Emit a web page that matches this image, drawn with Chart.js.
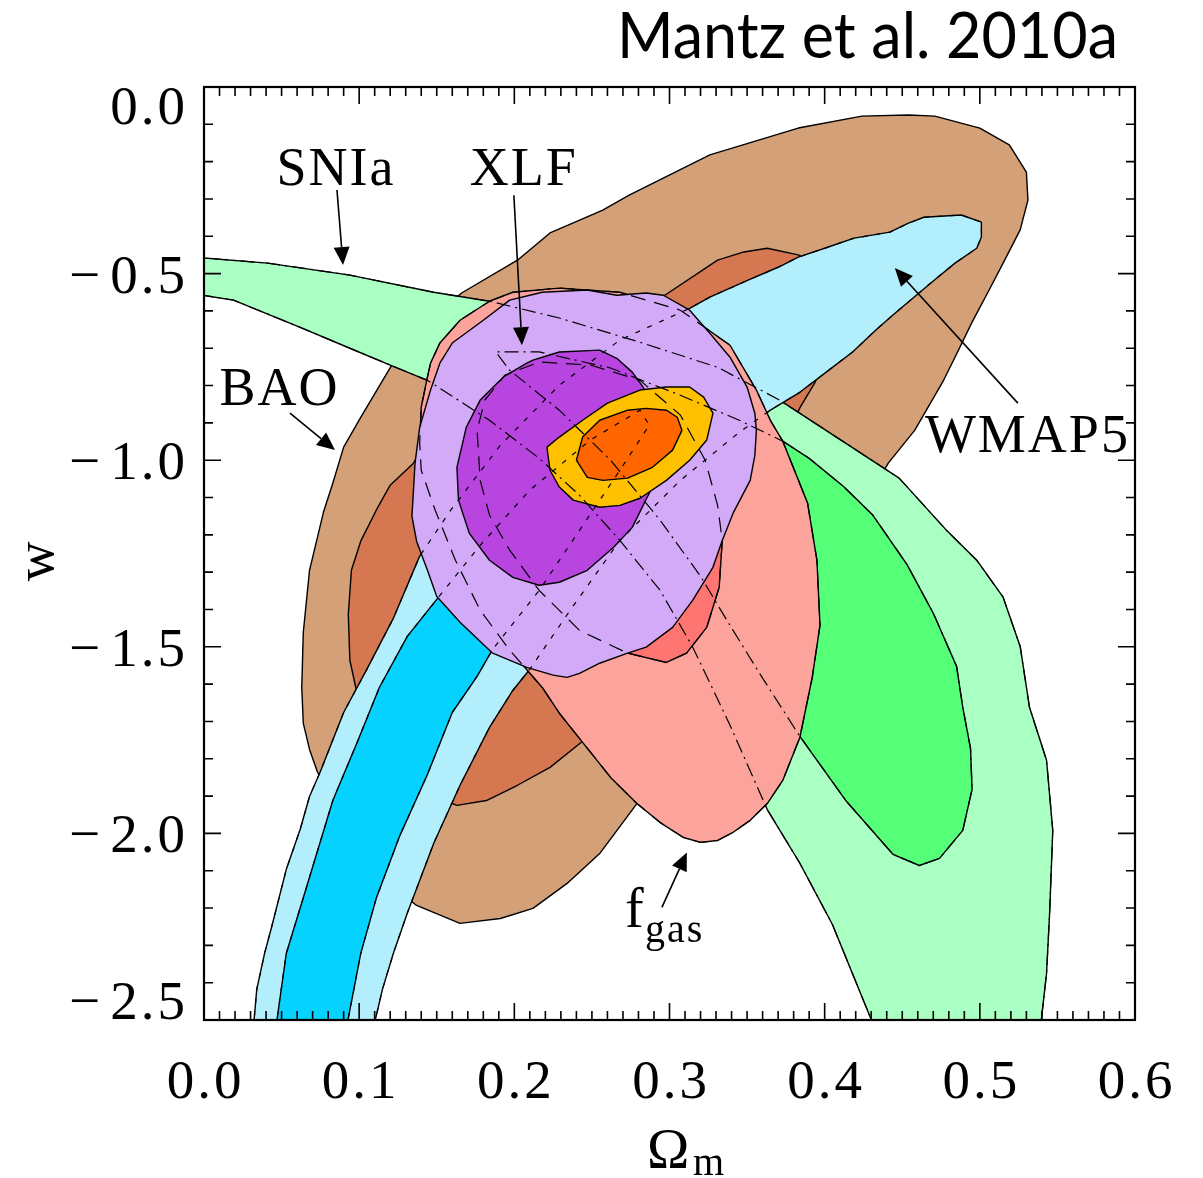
<!DOCTYPE html>
<html>
<head>
<meta charset="utf-8">
<script src="https://cdn.jsdelivr.net/npm/chart.js@4.4.1/dist/chart.umd.min.js"></script>
<style>
  html, body { margin: 0; padding: 0; background: #fff; }
  canvas { display: block; }
</style>
</head>
<body>
<canvas id="contours" width="1203" height="1178"></canvas>
<script>
// contour outlines as [Omega_m, w] pairs
const baoOuter = [
  [0.063,-1.609],[0.064,-1.461],[0.068,-1.295],[0.077,-1.139],[0.083,-1.062],[0.090,-0.965],[0.101,-0.885],
  [0.121,-0.745],[0.146,-0.625],[0.166,-0.552],[0.202,-0.464],[0.223,-0.391],[0.257,-0.330],[0.274,-0.290],
  [0.326,-0.182],[0.383,-0.110],[0.424,-0.078],[0.454,-0.075],[0.471,-0.078],[0.500,-0.110],[0.519,-0.155],
  [0.530,-0.228],[0.531,-0.303],[0.526,-0.383],[0.516,-0.464],[0.506,-0.544],[0.495,-0.630],[0.484,-0.724],
  [0.476,-0.791],[0.458,-0.920],[0.441,-1.008],[0.416,-1.188],[0.377,-1.429],[0.332,-1.670],[0.279,-1.920],
  [0.255,-2.054],[0.234,-2.134],[0.212,-2.201],[0.191,-2.228],[0.165,-2.241],[0.137,-2.193],[0.113,-2.113],
  [0.091,-1.992],[0.073,-1.834],[0.068,-1.775],[0.064,-1.705]
];
const baoInner = [
  [0.093,-1.413],[0.095,-1.295],[0.101,-1.217],[0.111,-1.134],[0.120,-1.067],[0.135,-1.008],[0.152,-0.893],
  [0.178,-0.786],[0.210,-0.692],[0.255,-0.611],[0.297,-0.558],[0.331,-0.464],[0.348,-0.442],[0.363,-0.432],
  [0.383,-0.450],[0.400,-0.491],[0.408,-0.571],[0.403,-0.678],[0.394,-0.790],[0.384,-0.860],[0.371,-0.973],
  [0.358,-1.134],[0.339,-1.349],[0.313,-1.536],[0.281,-1.670],[0.244,-1.753],[0.223,-1.823],[0.202,-1.871],
  [0.182,-1.912],[0.163,-1.925],[0.139,-1.885],[0.117,-1.778],[0.101,-1.670],[0.094,-1.536]
];
const snOuter = [
  [-0.01,-0.455],[0.041,-0.472],[0.094,-0.504],[0.148,-0.550],[0.184,-0.574],[0.229,-0.619],[0.281,-0.684],
  [0.331,-0.751],[0.371,-0.839],[0.448,-1.048],[0.479,-1.190],[0.498,-1.268],[0.515,-1.367],[0.526,-1.499],
  [0.532,-1.662],[0.543,-1.804],[0.547,-1.992],[0.545,-2.212],[0.543,-2.375],[0.538,-2.56],[0.436,-2.56],
  [0.405,-2.244],[0.384,-2.080],[0.363,-1.936],[0.339,-1.710],[0.315,-1.501],[0.294,-1.349],[0.268,-1.215],
  [0.242,-1.094],[0.216,-0.995],[0.184,-0.893],[0.144,-0.786],[0.120,-0.745],[0.094,-0.700],[0.062,-0.644],
  [0.019,-0.571],[-0.01,-0.552]
];
const snInner = [
  [0.373,-0.949],[0.390,-0.995],[0.412,-1.070],[0.431,-1.147],[0.453,-1.279],[0.470,-1.410],[0.485,-1.552],
  [0.489,-1.662],[0.494,-1.772],[0.495,-1.882],[0.489,-1.992],[0.474,-2.067],[0.461,-2.086],[0.444,-2.056],
  [0.414,-1.914],[0.384,-1.740],[0.358,-1.571],[0.337,-1.429],[0.320,-1.311],[0.294,-1.161],[0.262,-1.000],
  [0.229,-0.866],[0.197,-0.759],[0.188,-0.710],[0.216,-0.710],[0.262,-0.753],[0.307,-0.826],[0.345,-0.893]
];
const wmapOuter = [
  [0.031,-2.56],[0.034,-2.418],[0.039,-2.322],[0.044,-2.244],[0.053,-2.097],[0.062,-1.989],[0.068,-1.901],
  [0.075,-1.834],[0.090,-1.676],[0.105,-1.560],[0.122,-1.424],[0.139,-1.257],[0.159,-1.134],[0.191,-0.960],
  [0.229,-0.799],[0.268,-0.678],[0.313,-0.593],[0.326,-0.563],[0.351,-0.517],[0.370,-0.483],[0.383,-0.456],
  [0.400,-0.432],[0.419,-0.405],[0.442,-0.389],[0.454,-0.365],[0.464,-0.349],[0.488,-0.343],[0.501,-0.362],
  [0.501,-0.402],[0.498,-0.432],[0.484,-0.472],[0.469,-0.523],[0.444,-0.611],[0.433,-0.651],[0.418,-0.710],
  [0.401,-0.764],[0.384,-0.818],[0.365,-0.866],[0.345,-0.925],[0.307,-1.054],[0.268,-1.215],[0.236,-1.402],
  [0.210,-1.560],[0.199,-1.617],[0.184,-1.716],[0.165,-1.871],[0.148,-2.027],[0.131,-2.214],[0.122,-2.322],
  [0.115,-2.418],[0.107,-2.56]
];
const wmapInner = [
  [0.045,-2.56],[0.053,-2.322],[0.066,-2.145],[0.083,-1.912],[0.099,-1.753],[0.113,-1.609],[0.131,-1.472],
  [0.150,-1.373],[0.178,-1.228],[0.210,-1.080],[0.249,-0.946],[0.281,-0.866],[0.287,-0.906],[0.268,-1.027],
  [0.242,-1.188],[0.216,-1.349],[0.186,-1.507],[0.176,-1.579],[0.160,-1.676],[0.144,-1.842],[0.126,-2.008],
  [0.111,-2.174],[0.101,-2.322],[0.090,-2.56]
];
const fgasOuter = [
  [0.184,-0.574],[0.199,-0.550],[0.229,-0.539],[0.268,-0.550],[0.307,-0.598],[0.339,-0.692],[0.356,-0.812],
  [0.365,-0.893],[0.373,-0.949],[0.389,-1.115],[0.395,-1.268],[0.397,-1.442],[0.392,-1.582],[0.384,-1.743],
  [0.373,-1.858],[0.363,-1.920],[0.352,-1.965],[0.341,-1.997],[0.331,-2.019],[0.320,-2.024],[0.309,-2.011],
  [0.294,-1.971],[0.279,-1.920],[0.262,-1.850],[0.244,-1.756],[0.229,-1.678],[0.218,-1.609],[0.210,-1.571],
  [0.197,-1.509],[0.178,-1.402],[0.162,-1.268],[0.149,-1.134],[0.140,-1.027],[0.139,-0.954],[0.140,-0.858],
  [0.144,-0.777],[0.146,-0.740],[0.152,-0.686],[0.165,-0.625]
];
const fgasInner = [
  [0.273,-1.517],[0.298,-1.542],[0.311,-1.517],[0.324,-1.448],[0.332,-1.341],[0.334,-1.215],[0.331,-1.121],
  [0.323,-1.000],[0.307,-0.879],[0.281,-0.786],[0.249,-0.745],[0.216,-0.737],[0.194,-0.772],[0.181,-0.839],
  [0.176,-0.920],[0.178,-1.054],[0.184,-1.147],[0.197,-1.241],[0.216,-1.349],[0.242,-1.456]
];
const xlfOuter = [
  [0.152,-0.740],[0.160,-0.686],[0.180,-0.625],[0.197,-0.571],[0.218,-0.550],[0.247,-0.544],[0.266,-0.558],
  [0.285,-0.552],[0.296,-0.558],[0.313,-0.598],[0.326,-0.660],[0.339,-0.724],[0.350,-0.804],[0.355,-0.874],
  [0.356,-0.920],[0.355,-0.987],[0.352,-1.054],[0.341,-1.142],[0.334,-1.215],[0.328,-1.287],[0.315,-1.375],
  [0.302,-1.448],[0.285,-1.501],[0.273,-1.517],[0.255,-1.544],[0.242,-1.571],[0.234,-1.582],[0.225,-1.576],
  [0.208,-1.555],[0.186,-1.517],[0.165,-1.434],[0.150,-1.365],[0.144,-1.295],[0.137,-1.217],[0.134,-1.150],
  [0.135,-1.080],[0.136,-1.008],[0.139,-0.912],[0.146,-0.812]
];
const xlfInner = [
  [0.212,-0.732],[0.229,-0.710],[0.255,-0.705],[0.266,-0.727],[0.276,-0.764],[0.283,-0.804],[0.294,-0.893],
  [0.297,-1.000],[0.287,-1.088],[0.276,-1.180],[0.264,-1.233],[0.247,-1.295],[0.229,-1.327],[0.216,-1.335],
  [0.199,-1.314],[0.184,-1.268],[0.171,-1.196],[0.164,-1.107],[0.163,-1.019],[0.169,-0.912],[0.178,-0.839],
  [0.193,-0.777],[0.208,-0.740]
];
const jointOuter = [
  [0.221,-0.965],[0.223,-1.027],[0.229,-1.072],[0.238,-1.107],[0.255,-1.126],[0.268,-1.121],[0.281,-1.102],
  [0.298,-1.054],[0.313,-1.000],[0.324,-0.946],[0.328,-0.874],[0.322,-0.831],[0.313,-0.804],[0.298,-0.804],
  [0.281,-0.812],[0.260,-0.847],[0.244,-0.893],[0.229,-0.938]
];
const jointInner = [
  [0.240,-1.000],[0.247,-1.046],[0.257,-1.054],[0.273,-1.048],[0.289,-1.019],[0.302,-0.973],[0.308,-0.920],
  [0.305,-0.885],[0.298,-0.866],[0.285,-0.861],[0.273,-0.866],[0.255,-0.893],[0.244,-0.938]
];

const xTickValues = [0, 0.1, 0.2, 0.3, 0.4, 0.5, 0.6];
const xTickLabels = ['0.0', '0.1', '0.2', '0.3', '0.4', '0.5', '0.6'];
const yTickValues = [0, -0.5, -1.0, -1.5, -2.0, -2.5];
const yTickLabels = ['0.0', '−0.5', '−1.0', '−1.5', '−2.0', '−2.5'];

// drawing order, bottom first
const layers = [
  { data: baoOuter, color: '#d4a077' },
  { data: baoInner, color: '#d57852' },
  { data: snOuter, color: '#aaffc3' },
  { data: snInner, color: '#55ff78' },
  { data: wmapOuter, color: '#b3eefc' },
  { data: wmapInner, color: '#05d2ff' },
  { data: fgasOuter, color: '#fca39b' },
  { data: fgasInner, color: '#ff7571' },
  { data: xlfOuter, color: '#d2aaf7' },
  { data: xlfInner, color: '#b845e0' },
  { data: jointOuter, color: '#ffc000' },
  { data: jointInner, color: '#ff6600' }
];
// hidden parts of some contours show through as broken lines
const overlays = [
  { data: snOuter, dash: [14, 5, 2, 5] },
  { data: snInner, dash: [14, 5, 2, 5] },
  { data: wmapOuter, dash: [5, 8] },
  { data: wmapInner, dash: [5, 8] },
  { data: fgasOuter, dash: [15, 9] },
  { data: fgasInner, dash: [15, 9] }
];

function closed(poly) {
  return poly.concat([poly[0]]).map(p => ({ x: p[0], y: p[1] }));
}

const datasets = [];
layers.forEach((l, i) => {
  datasets.push({
    data: closed(l.data),
    showLine: true,
    fill: 'shape',
    backgroundColor: l.color,
    borderColor: '#000',
    borderWidth: 1.4,
    borderJoinStyle: 'round',
    pointRadius: 0,
    order: 100 - i
  });
});
overlays.forEach((o, i) => {
  datasets.push({
    data: closed(o.data),
    showLine: true,
    fill: false,
    borderColor: '#000',
    borderWidth: 1.2,
    borderDash: o.dash,
    pointRadius: 0,
    order: -1 - i
  });
});

const serif = '"Liberation Serif", "DejaVu Serif", serif';
const textNotes = [
  { text: 'SNIa', x: 0.0844, y: -0.263 },
  { text: 'XLF', x: 0.2055, y: -0.263 },
  { text: 'BAO', x: 0.048, y: -0.853 },
  { text: 'WMAP5', x: 0.530, y: -0.979 }
];
const arrowNotes = [
  { from: [0.0857, -0.276], to: [0.0896, -0.477] },
  { from: [0.1997, -0.290], to: [0.2049, -0.692] },
  { from: [0.0554, -0.874], to: [0.0844, -0.973] },
  { from: [0.5245, -0.847], to: [0.4452, -0.485] },
  { from: [0.2951, -2.198], to: [0.3112, -2.051] }
];

function spacing(ctx, px) {
  if ('letterSpacing' in ctx) ctx.letterSpacing = px + 'px';
}

function arrow(ctx, x0, y0, x1, y1) {
  const ang = Math.atan2(y1 - y0, x1 - x0);
  const c = Math.cos(ang), s = Math.sin(ang);
  const head = 18, half = 8;
  ctx.beginPath();
  ctx.moveTo(x0, y0);
  ctx.lineTo(x1 - head * c, y1 - head * s);
  ctx.stroke();
  ctx.beginPath();
  ctx.moveTo(x1, y1);
  ctx.lineTo(x1 - head * c - half * s, y1 - head * s + half * c);
  ctx.lineTo(x1 - head * c + half * s, y1 - head * s - half * c);
  ctx.closePath();
  ctx.fill();
}

const axisDecor = {
  id: 'axisDecor',
  afterDraw(chart) {
    const { ctx, chartArea: a } = chart;
    const xs = chart.scales.x, ys = chart.scales.y;
    ctx.save();
    ctx.strokeStyle = '#000';
    ctx.fillStyle = '#000';

    // inward ticks on all four sides
    ctx.lineWidth = 1.6;
    ctx.beginPath();
    for (let i = 0; i <= 60; i++) {
      const px = xs.getPixelForValue(i / 100);
      const len = i % 10 === 0 ? 17 : 9;
      ctx.moveTo(px, a.bottom); ctx.lineTo(px, a.bottom - len);
      ctx.moveTo(px, a.top); ctx.lineTo(px, a.top + len);
    }
    for (let i = 0; i <= 25; i++) {
      const py = ys.getPixelForValue(-i / 10);
      const len = i % 5 === 0 ? 17 : 9;
      ctx.moveTo(a.left, py); ctx.lineTo(a.left + len, py);
      ctx.moveTo(a.right, py); ctx.lineTo(a.right - len, py);
    }
    ctx.stroke();
    ctx.lineWidth = 2.2;
    ctx.strokeRect(a.left, a.top, a.right - a.left, a.bottom - a.top);

    // tick labels
    ctx.font = '55px ' + serif;
    spacing(ctx, 3);
    ctx.textBaseline = 'alphabetic';
    ctx.textAlign = 'center';
    xTickValues.forEach((v, i) => {
      ctx.fillText(xTickLabels[i], xs.getPixelForValue(v) + 1.5, a.bottom + 78);
    });
    ctx.textAlign = 'right';
    yTickValues.forEach((v, i) => {
      let py = ys.getPixelForValue(v);
      py = Math.min(Math.max(py, a.top + 18), a.bottom - 20);
      const lab = yTickLabels[i];
      ctx.fillText(lab.replace('−', ''), a.left - 16, py + 19);
      if (lab.startsWith('−')) ctx.fillText('−', a.left - 101, py + 19);
    });

    // axis titles
    spacing(ctx, 0);
    ctx.save();
    ctx.translate(a.left - 151, (a.top + a.bottom) / 2 + 8);
    ctx.rotate(-Math.PI / 2);
    ctx.textAlign = 'center';
    ctx.font = '55px ' + serif;
    ctx.fillText('w', 0, 0);
    ctx.restore();
    ctx.textAlign = 'left';
    ctx.font = '57px ' + serif;
    ctx.fillText('Ω', 647, a.bottom + 148);
    ctx.font = '40px ' + serif;
    ctx.fillText('m', 693, a.bottom + 155);

    // contour labels and arrows
    ctx.font = '54px ' + serif;
    spacing(ctx, 2);
    ctx.textAlign = 'center';
    textNotes.forEach(n => {
      ctx.fillText(n.text, xs.getPixelForValue(n.x) + 1, ys.getPixelForValue(n.y));
    });
    spacing(ctx, 0);
    ctx.textAlign = 'left';
    ctx.font = '56px ' + serif;
    ctx.fillText('f', xs.getPixelForValue(0.2713), ys.getPixelForValue(-2.252));
    ctx.font = '40px ' + serif;
    spacing(ctx, 2);
    ctx.fillText('gas', xs.getPixelForValue(0.2842), ys.getPixelForValue(-2.292));
    spacing(ctx, 0);
    ctx.lineWidth = 1.6;
    arrowNotes.forEach(n => {
      arrow(ctx, xs.getPixelForValue(n.from[0]), ys.getPixelForValue(n.from[1]),
        xs.getPixelForValue(n.to[0]), ys.getPixelForValue(n.to[1]));
    });

    // title
    const title = 'Mantz et al. 2010a';
    ctx.font = '64px Lato, "Open Sans", sans-serif';
    const tw = ctx.measureText(title).width;
    ctx.save();
    ctx.translate(1118, 58);
    ctx.scale(501 / tw, 1);
    ctx.textAlign = 'right';
    ctx.fillText(title, 0, 0);
    ctx.restore();

    ctx.restore();
  }
};

new Chart(document.getElementById('contours'), {
  type: 'scatter',
  data: { datasets: datasets },
  options: {
    responsive: false,
    animation: false,
    layout: { padding: { left: 204, top: 87, right: 68, bottom: 158 } },
    scales: {
      x: { type: 'linear', min: 0, max: 0.6, display: false },
      y: { type: 'linear', min: -2.5, max: 0, display: false }
    },
    plugins: {
      legend: { display: false },
      tooltip: { enabled: false }
    },
    elements: { line: { tension: 0 } }
  },
  plugins: [axisDecor]
});
</script>
</body>
</html>
